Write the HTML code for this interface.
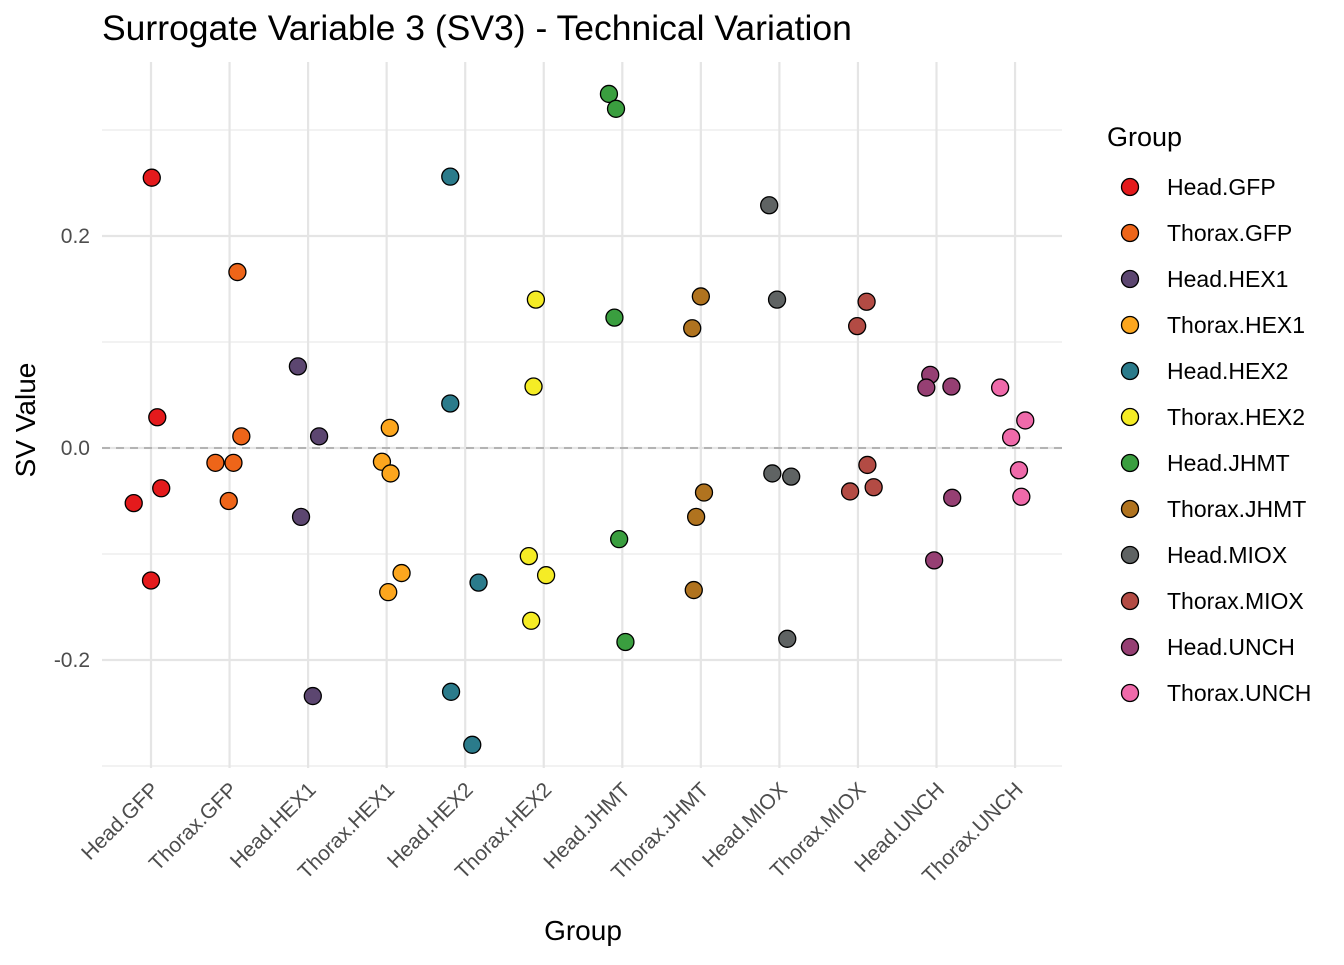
<!DOCTYPE html>
<html><head><meta charset="utf-8"><style>
body{margin:0;background:#fff;}
svg text{font-family:"Liberation Sans",Arial,sans-serif;}
</style></head><body>
<svg id="chart" width="1344" height="960" xmlns="http://www.w3.org/2000/svg">
<text x="102" y="40" font-size="35.5" fill="#000">Surrogate Variable 3 (SV3) - Technical Variation</text>
<g id="grid"></g><g id="pts"></g><g id="legend"></g>
<text x="583" y="940" font-size="28" text-anchor="middle" fill="#000">Group</text>
<text transform="translate(35,420) rotate(-90)" font-size="28" text-anchor="middle" fill="#000">SV Value</text>
</svg>
<script>
const categories=["Head.GFP","Thorax.GFP","Head.HEX1","Thorax.HEX1","Head.HEX2","Thorax.HEX2","Head.JHMT","Thorax.JHMT","Head.MIOX","Thorax.MIOX","Head.UNCH","Thorax.UNCH"];
const colors=["#E41A1C","#EE6519","#5C4670","#FCA61E","#2B7B8B","#F5EC25","#3A9E3F","#B0731F","#5F6363","#B34B44","#963F73","#EF6AAA"];
const values=[
[0.255,0.029,-0.052,-0.038,-0.125],
[0.166,0.011,-0.014,-0.014,-0.050],
[0.077,0.011,-0.065,-0.234],
[0.019,-0.013,-0.024,-0.118,-0.136],
[0.256,0.042,-0.127,-0.230,-0.280],
[0.140,0.058,-0.102,-0.120,-0.163],
[0.334,0.320,0.123,-0.086,-0.183],
[0.143,0.113,-0.042,-0.065,-0.134],
[0.229,0.140,-0.024,-0.027,-0.180],
[0.138,0.115,-0.016,-0.041,-0.037],
[0.069,0.057,0.058,-0.047,-0.106],
[0.057,0.026,0.010,-0.021,-0.046]];
const jitter=[
[0.01,0.08,-0.22,0.13,0],
[0.1,0.15,-0.18,0.05,-0.01],
[-0.13,0.14,-0.09,0.06],
[0.04,-0.06,0.05,0.19,0.02],
[-0.19,-0.19,0.17,-0.18,0.09],
[-0.1,-0.13,-0.19,0.03,-0.16],
[-0.17,-0.08,-0.1,-0.04,0.04],
[0,-0.11,0.04,-0.06,-0.09],
[-0.13,-0.03,-0.09,0.15,0.1],
[0.11,-0.01,0.12,-0.1,0.2],
[-0.08,-0.13,0.19,0.2,-0.03],
[-0.19,0.13,-0.05,0.05,0.08]];
const yTicks=[-0.2,0.0,0.2];
const yMinor=[-0.3,-0.1,0.1,0.3];
const NS="http://www.w3.org/2000/svg";
const X0=151,DX=78.55;
const xs=i=>X0+i*DX;
const ys=v=>448-v*1060;
function mk(t,a,p){const e=document.createElementNS(NS,t);for(const k in a)e.setAttribute(k,a[k]);p.appendChild(e);return e;}
const grid=document.getElementById('grid');
yMinor.forEach(v=>{const l=mk('line',{x1:102,x2:1062,y1:ys(v),y2:ys(v),stroke:'#ebebeb','stroke-width':1.2},grid);

});
yTicks.forEach(v=>{const l=mk('line',{x1:102,x2:1062,y1:ys(v),y2:ys(v),stroke:'#e5e5e5','stroke-width':2.2},grid);


const t=mk('text',{x:90,y:ys(v)+7,'font-size':21,'text-anchor':'end',fill:'#4d4d4d'},grid);
t.textContent=v===0?'0.0':v.toFixed(1);

});
categories.forEach((c,i)=>{const l=mk('line',{x1:xs(i),x2:xs(i),y1:62,y2:768,stroke:'#e5e5e5','stroke-width':2.2},grid);


const t=mk('text',{transform:`translate(${xs(i)+9},${791}) rotate(-45)`,'font-size':21,'text-anchor':'end',fill:'#4d4d4d'},grid);
t.textContent=c;

});
const z=mk('line',{x1:102,x2:1062,y1:ys(0),y2:ys(0),stroke:'#b3b3b3','stroke-width':2,'stroke-dasharray':'8,6'},grid);


const pts=document.getElementById('pts');
values.forEach((arr,i)=>arr.forEach((v,j)=>{const c=mk('circle',{cx:xs(i+jitter[i][j]),cy:ys(v),r:8.5,fill:colors[i],stroke:'#000','stroke-width':1.3},pts);

}));
const lg=document.getElementById('legend');
const lt=mk('text',{x:1107,y:146,'font-size':27,fill:'#000'},lg);lt.textContent='Group';


categories.forEach((c,i)=>{const y=187+i*46;
const g=mk('g',{},lg);


mk('circle',{cx:1130,cy:y,r:8.5,fill:colors[i],stroke:'#000','stroke-width':1.3},g);
const t=mk('text',{x:1167,y:y+8,'font-size':23,fill:'#000'},g);t.textContent=c;});
</script>
</body></html>
